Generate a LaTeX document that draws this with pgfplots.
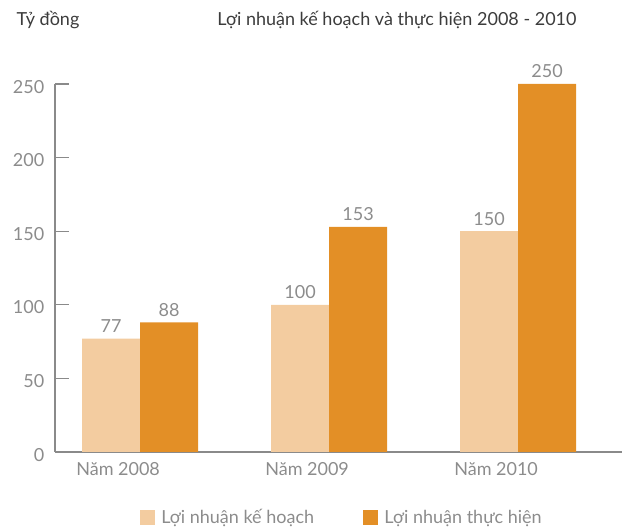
\documentclass[border=0pt]{standalone}
\usepackage{pgfplots}
\pgfplotsset{compat=1.18}
\usepackage{fontspec}
\setmainfont{Lato}
\definecolor{planc}{HTML}{F3CCA0}
\definecolor{realc}{HTML}{E38F26}
\definecolor{axgray}{HTML}{8A8A8A}
\definecolor{txtgray}{HTML}{8C8C8C}
\definecolor{titlec}{HTML}{3C3C3C}
\pgfplotsset{sqlegend/.style={legend image code/.code={\fill[##1] (0pt,-5.6pt) rectangle (11.25pt,5.6pt);}}}
\begin{document}
\begin{tikzpicture}[x=1pt,y=1pt]
\path[use as bounding box] (-41.25,-56.25) rectangle (425.25,339);
\begin{axis}[
  at={(0,0)}, anchor=south west,
  scale only axis,
  width=425.25pt, height=276pt,
  xmin=-0.45, xmax=2.55,
  ymin=0, ymax=250,
  axis lines*=left,
  axis line style={axgray, line width=0.9pt},
  ybar=0pt,
  bar width=43.5pt,
  ytick={0,50,100,150,200,250},
  tick align=inside,
  major tick length=10.5pt,
  ytick style={axgray, line width=0.9pt},
  xtick={-0.116,0.884,1.884},
  xticklabels={Năm 2008,Năm 2009,Năm 2010},
  xtick style={draw=none},
  ticklabel style={font=\fontsize{13.5}{16}\selectfont, text=txtgray},
  /pgf/number format/assume math mode=true,
  yticklabel style={xshift=-4.5pt, yshift=-2pt},
  xticklabel style={yshift=-4pt},
  nodes near coords,
  every node near coord/.append style={font=\fontsize{13.5}{16}\selectfont, text=txtgray, yshift=1pt},
  legend columns=2,
  legend style={draw=none, fill=none, inner sep=0pt, outer sep=0pt,
    at={(rel axis cs:0,0)}, anchor=west, xshift=63.5pt, yshift=-49.1pt,
    font=\fontsize{13.5}{16}\selectfont, text=txtgray,
    /tikz/every odd column/.append style={column sep=3pt},
    /tikz/every even column/.append style={column sep=34.5pt}},
  clip=false,
]
\addplot[fill=planc, draw=none, sqlegend] coordinates {(0,77) (1,100) (2,150)};
\addplot[fill=realc, draw=none, sqlegend] coordinates {(0,88) (1,153) (2,250)};
\legend{Lợi nhuận kế hoạch, Lợi nhuận thực hiện}
\end{axis}
\node[anchor=west, font=\fontsize{13.5}{16}\selectfont, text=titlec] at (-32.25,324) {Tỷ đồng};
\node[font=\fontsize{13.5}{16}\selectfont, text=titlec] at (256.5,324) {Lợi nhuận kế hoạch và thực hiện 2008 - 2010};
\end{tikzpicture}
\end{document}
